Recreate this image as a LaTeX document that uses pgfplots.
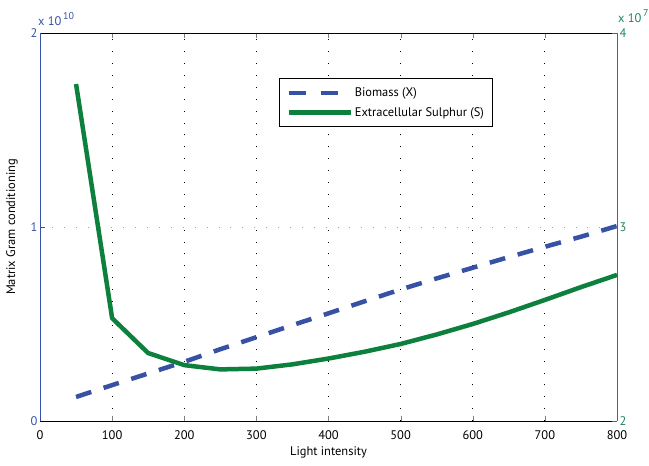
\documentclass[border=0pt]{standalone}
\usepackage{fontspec}
\setmainfont{PT Sans}
\usepackage{pgfplots}
\pgfplotsset{compat=1.18}

\definecolor{bioblue}{RGB}{55,82,165}
\definecolor{sulgreen}{RGB}{14,128,62}
\definecolor{axgreen}{RGB}{28,134,92}
\definecolor{gridblue}{RGB}{150,160,200}

\newcommand{\chartfont}{\fontsize{12.5}{14}\selectfont}

\pgfplotsset{
  common/.style={
    scale only axis, width=577bp, height=388bp,
    at={(0,0)}, anchor=south west,
    xmin=0, xmax=800,
    tick align=inside,
    major tick length=5bp,
    /pgf/number format/assume math mode=true,
    ticklabel style={font=\chartfont},
    label style={font=\chartfont},
  },
}

\begin{document}
\begin{tikzpicture}
\useasboundingbox (-40bp,-45bp) rectangle (609bp,421bp);

% left axis: biomass, in units of 10^10
\begin{axis}[
  common,
  ymin=0, ymax=2,
  xtick={0,100,...,800}, ytick={0,1,2},
  axis x line*=box, axis y line*=left,
  xtick pos=both,
  x axis line style={black, line width=0.9bp},
  y axis line style={bioblue, line width=0.9bp},
  ytick style={bioblue},
  yticklabel style={text=bioblue, xshift=1bp},
  xticklabel style={yshift=-6bp},
  xmajorgrids, ymajorgrids,
  x grid style={black, line width=0.9bp, dash pattern=on 0.9bp off 11bp},
  y grid style={gridblue, line width=0.9bp, dash pattern=on 0.9bp off 11bp},
  xlabel={Light intensity},
  ylabel={Matrix Gram conditioning},
  xlabel style={at={(axis description cs:0.5,0)}, anchor=center, yshift=-31bp},
  ylabel style={at={(axis description cs:0,0.5)}, anchor=center, yshift=28bp},
  clip=false,
]
\addplot[bioblue, line width=4.5bp, dash pattern=on 16bp off 13bp] coordinates {
  (50,0.124) (100,0.185) (150,0.245) (200,0.305) (250,0.370) (300,0.432)
  (350,0.494) (400,0.555) (450,0.617) (500,0.678) (550,0.735) (600,0.790)
  (650,0.845) (700,0.898) (750,0.950) (800,1.005)
};
\node[anchor=south west, text=bioblue, font=\chartfont, inner sep=0pt]
  at (rel axis cs:0,1) [yshift=7bp, xshift=-2bp] {x 10\raisebox{6bp}{\fontsize{10}{11}\selectfont\,10}};
\end{axis}

% right axis: extracellular sulphur, in units of 10^7
\begin{axis}[
  common,
  ymin=2, ymax=4,
  ytick={2,3,4},
  axis x line=none, axis y line*=right,
  y axis line style={axgreen, line width=0.9bp},
  yticklabel style={text=axgreen, xshift=-1bp},
  ytick style={axgreen},
  clip=false,
  legend cell align=left,
  legend style={
    at={(0.414,0.883)}, anchor=north west,
    draw=black, line width=0.9bp, fill=white,
    font=\chartfont,
    inner xsep=7bp, inner ysep=7bp, row sep=5bp,
    /tikz/every even column/.append style={column sep=2bp},
  },
  legend image code/.code={\draw[#1] (0bp,0bp) -- (62bp,0bp);},
]
\addlegendimage{bioblue, line width=4.5bp, dash pattern=on 17bp off 15bp}
\addlegendentry{Biomass (X)}
\addplot[sulgreen, line width=4.5bp, line join=round] coordinates {
  (50,3.737) (100,2.530) (150,2.350) (200,2.288) (250,2.266) (300,2.270)
  (350,2.292) (400,2.322) (450,2.357) (500,2.397) (550,2.446) (600,2.500)
  (650,2.560) (700,2.624) (750,2.690) (800,2.753)
};
\addlegendentry{Extracellular Sulphur (S)\hspace{10bp}}
\node[anchor=south west, text=axgreen, font=\chartfont, inner sep=0pt]
  at (rel axis cs:1,1) [yshift=10bp, xshift=1bp] {x 10\raisebox{6bp}{\fontsize{10}{11}\selectfont\,7}};
\end{axis}
\end{tikzpicture}
\end{document}
